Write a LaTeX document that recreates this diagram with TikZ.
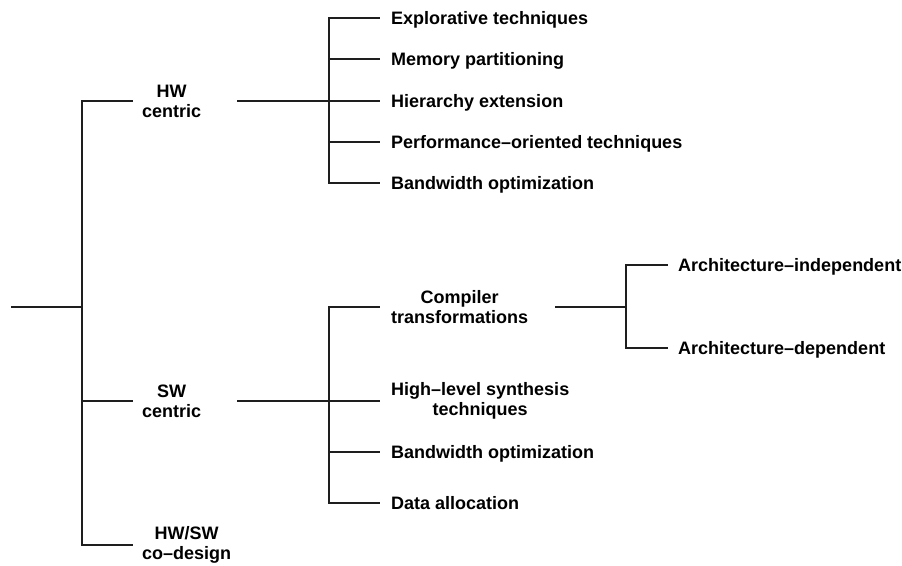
\documentclass[tikz,border=0pt]{standalone}
\usepackage{fontspec}
\setmainfont{Liberation Sans}
\usepackage{tikz}
\usepackage{xcolor}
\usetikzlibrary{arrows}
\usetikzlibrary{positioning}

\begin{document}
\begin{tikzpicture}[x={1pt}, y={-1pt}]
	\definecolor{WHITE}{RGB}{255, 255, 255}
	\definecolor{LINE_BLACK}{RGB}{30, 30, 30}
	\definecolor{TEXT_BLACK}{RGB}{0, 0, 0}
	\tikzset{
		branch/.style={draw, line width={1.1pt}, color={LINE_BLACK!100}},
		leafbox/.style={anchor=west, inner xsep={11pt}, inner ysep={0pt}, text height={13pt}, text depth={0pt}, text={TEXT_BLACK!100}, font={\fontsize{18pt}{20pt}\selectfont\bfseries}},
		groupbox/.style={anchor=west, inner xsep={9pt}, inner ysep={0pt}, align=center, text={TEXT_BLACK!100}, font={\fontsize{18pt}{20pt}\selectfont\bfseries}}
	}
	\useasboundingbox[fill={WHITE!100}] (0, 0) rectangle (902, 565);

	\coordinate (root) at (11, 307);
	\coordinate (fork) at (82, 307);
	\node[groupbox] (hw) at (133, 101) {HW\\centric};
	\node[groupbox] (sw) at (133, 401) {SW\\centric};
	\node[groupbox] (cod) at (133, 545) {HW/SW\\co–design};

	\coordinate (hwout) at (237, 101);
	\coordinate (hwbus) at (329, 101);
	\node[leafbox] (explore) at (380, 18) {Explorative techniques};
	\node[leafbox] (mempart) at (380, 59) {Memory partitioning};
	\node[leafbox] (hierext) at (380, 101) {Hierarchy extension};
	\node[leafbox] (perf) at (380, 142) {Performance–oriented techniques};
	\node[leafbox] (hwband) at (380, 183) {Bandwidth optimization};

	\coordinate (swout) at (237, 401);
	\coordinate (swbus) at (329, 401);
	\node[groupbox, inner xsep={11pt}] (compiler) at (380, 307) {Compiler\\transformations};
	\node[groupbox, inner xsep={11pt}] (hls) at (380, 401) {High–level synthesis\\techniques};
	\node[leafbox] (swband) at (380, 452) {Bandwidth optimization};
	\node[leafbox] (alloc) at (380, 503) {Data allocation};

	\coordinate (cmpout) at (555, 307);
	\coordinate (cmpbus) at (626, 307);
	\node[leafbox, inner xsep={10pt}] (archind) at (668, 265) {Architecture–independent};
	\node[leafbox, inner xsep={10pt}] (archdep) at (668, 348) {Architecture–dependent};

	\draw[branch] (root) -- (fork);
	\draw[branch] (fork) |- (hw.west);
	\draw[branch] (fork) |- (sw.west);
	\draw[branch] (fork) |- (cod.west);

	\draw[branch] (hwout) -- (hwbus);
	\draw[branch] (hwbus) |- (explore.west);
	\draw[branch] (hwbus) |- (mempart.west);
	\draw[branch] (hwbus) |- (hierext.west);
	\draw[branch] (hwbus) |- (perf.west);
	\draw[branch] (hwbus) |- (hwband.west);

	\draw[branch] (swout) -- (swbus);
	\draw[branch] (swbus) |- (compiler.west);
	\draw[branch] (swbus) |- (hls.west);
	\draw[branch] (swbus) |- (swband.west);
	\draw[branch] (swbus) |- (alloc.west);

	\draw[branch] (cmpout) -- (cmpbus);
	\draw[branch] (cmpbus) |- (archind.west);
	\draw[branch] (cmpbus) |- (archdep.west);
\end{tikzpicture}
\end{document}
